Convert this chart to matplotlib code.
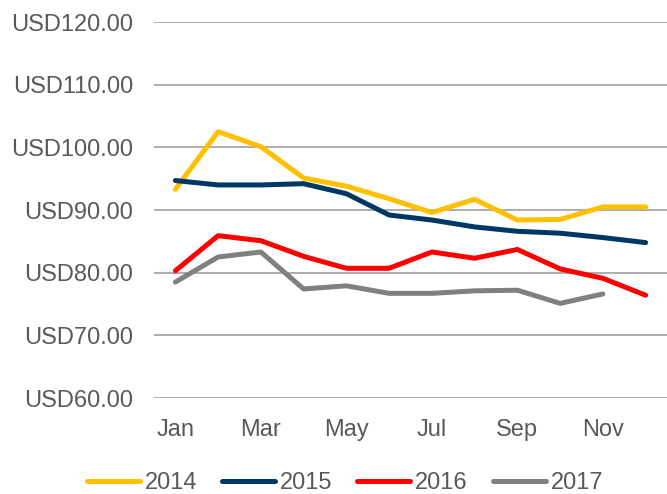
import matplotlib.pyplot as plt
from matplotlib.ticker import FuncFormatter

plt.rcParams['font.family'] = ['Liberation Sans', 'DejaVu Sans']

months = ['Jan', 'Feb', 'Mar', 'Apr', 'May', 'Jun', 'Jul', 'Aug', 'Sep', 'Oct', 'Nov', 'Dec']
y2014 = [93.3, 102.5, 100.1, 95.1, 93.8, 91.8, 89.6, 91.7, 88.4, 88.5, 90.5, 90.5]
y2015 = [94.7, 94.0, 94.0, 94.2, 92.6, 89.2, 88.4, 87.3, 86.6, 86.3, 85.6, 84.8]
y2016 = [80.3, 85.9, 85.1, 82.6, 80.7, 80.7, 83.3, 82.3, 83.7, 80.6, 79.1, 76.4]
y2017 = [78.5, 82.5, 83.3, 77.4, 77.9, 76.7, 76.7, 77.1, 77.2, 75.1, 76.6]

fig = plt.figure(figsize=(6.67, 4.94), dpi=100)
ax = fig.add_axes([154/667, 1-398/494, 1-154/667, 376/494])

x = list(range(12))
ax.plot(x, y2014, color='#FFC000', lw=3.6, label='2014', solid_capstyle='round')
ax.plot(x, y2015, color='#003865', lw=3.6, label='2015', solid_capstyle='round')
ax.plot(x, y2016, color='#FF0000', lw=3.6, label='2016', solid_capstyle='round')
ax.plot(x[:len(y2017)], y2017, color='#808080', lw=3.6, label='2017', solid_capstyle='round')

ax.set_xlim(-0.5, 11.5)
ax.set_ylim(60, 120)
ax.set_yticks(range(60, 121, 10))
ax.yaxis.set_major_formatter(FuncFormatter(lambda v, p: 'USD%.2f' % v))
ax.set_xticks(x[::2])
ax.set_xticklabels(months[::2])
ax.grid(axis='y', color='#A6A6A6', lw=1.3)
ax.set_axisbelow(True)
for s in ax.spines.values():
    s.set_visible(False)
ax.tick_params(length=0, labelsize=17, colors='#595959')
ax.tick_params(axis='y', pad=15)
ax.tick_params(axis='x', pad=15)

fig.legend(loc='center', bbox_to_anchor=(345/667, 1-483/494), ncol=4, frameon=False,
           fontsize=17, handlelength=2.25, handletextpad=0.2, columnspacing=1.05,
           labelcolor='#595959')

fig.savefig('out.png', dpi=100)
